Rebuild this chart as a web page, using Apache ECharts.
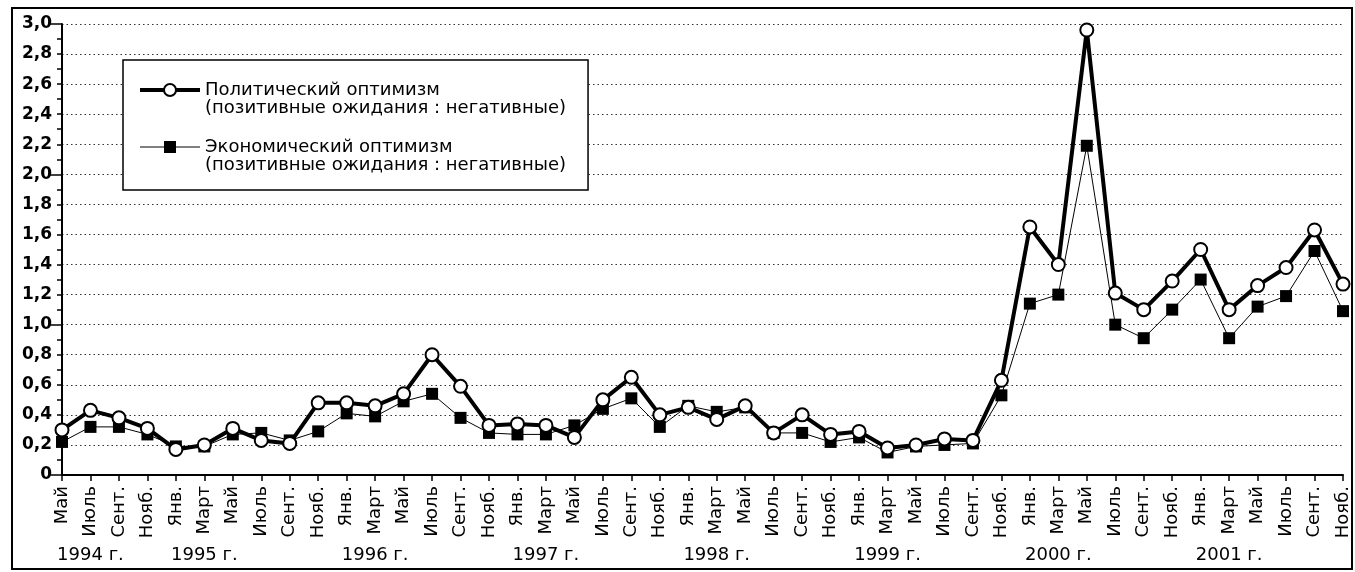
<!DOCTYPE html>
<html>
<head>
<meta charset="utf-8">
<script src="https://cdn.jsdelivr.net/npm/echarts@6/dist/echarts.min.js"></script>
<style>
  html, body { margin: 0; padding: 0; background: #fff; }
  #chart { width: 1355px; height: 572px; }
</style>
</head>
<body>
<div id="chart"></div>
<script>
const months = [
    "Май", "Июль", "Сент.", "Нояб.",
    "Янв.", "Март", "Май", "Июль", "Сент.", "Нояб.",
    "Янв.", "Март", "Май", "Июль", "Сент.", "Нояб.",
    "Янв.", "Март", "Май", "Июль", "Сент.", "Нояб.",
    "Янв.", "Март", "Май", "Июль", "Сент.", "Нояб.",
    "Янв.", "Март", "Май", "Июль", "Сент.", "Нояб.",
    "Янв.", "Март", "Май", "Июль", "Сент.", "Нояб.",
    "Янв.", "Март", "Май", "Июль", "Сент.", "Нояб."
];
const yearLabels = ["1994 г.", "1995 г.", "1996 г.", "1997 г.", "1998 г.", "1999 г.", "2000 г.", "2001 г."];
const yearLabelPos = [1, 5, 11, 17, 23, 29, 35, 41];

const politicalName = "Политический оптимизм\n(позитивные ожидания : негативные)";
const economicName = "Экономический оптимизм\n(позитивные ожидания : негативные)";

const political = [
    0.30, 0.43, 0.38, 0.31,
    0.17, 0.20, 0.31, 0.23, 0.21, 0.48,
    0.48, 0.46, 0.54, 0.80, 0.59, 0.33,
    0.34, 0.33, 0.25, 0.50, 0.65, 0.40,
    0.45, 0.37, 0.46, 0.28, 0.40, 0.27,
    0.29, 0.18, 0.20, 0.24, 0.23, 0.63,
    1.65, 1.40, 2.96, 1.21, 1.10, 1.29,
    1.50, 1.10, 1.26, 1.38, 1.63, 1.27
];
const economic = [
    0.22, 0.32, 0.32, 0.27,
    0.19, 0.19, 0.27, 0.28, 0.23, 0.29,
    0.41, 0.39, 0.49, 0.54, 0.38, 0.28,
    0.27, 0.27, 0.33, 0.44, 0.51, 0.32,
    0.46, 0.42, 0.45, 0.28, 0.28, 0.22,
    0.25, 0.15, 0.19, 0.20, 0.21, 0.53,
    1.14, 1.20, 2.19, 1.00, 0.91, 1.10,
    1.30, 0.91, 1.12, 1.19, 1.49, 1.09
];

const myChart = echarts.init(document.getElementById("chart"));
const font = "DejaVu Sans";

const option = {
    animation: false,
    textStyle: {
        fontFamily: font,
        color: "#000"
    },
    grid: {
        left: 62,
        right: 12,
        top: 24,
        bottom: 97
    },
    legend: {
        orient: "vertical",
        left: 123,
        top: 60,
        padding: [3, 22, 16, 15],
        itemGap: 3,
        itemWidth: 60,
        itemHeight: 15,
        borderColor: "#000",
        borderWidth: 1.5,
        backgroundColor: "#fff",
        // blank first line keeps the icon level with the first text line
        formatter: name => "\n" + name,
        textStyle: {
            fontFamily: font,
            fontSize: 18,
            lineHeight: 18,
            color: "#000"
        },
        data: [{
            name: politicalName,
            lineStyle: {width: 4, color: "#000"},
            itemStyle: {color: "#fff", borderColor: "#000", borderWidth: 2}
        }, {
            name: economicName,
            lineStyle: {width: 1, color: "#000"},
            itemStyle: {color: "#000"}
        }]
    },
    xAxis: [{
        type: "category",
        data: months,
        boundaryGap: false,
        axisLine: {
            lineStyle: {color: "#000", width: 2}
        },
        axisTick: {
            show: true,
            length: 6,
            lineStyle: {color: "#000", width: 1.5}
        },
        axisLabel: {
            interval: 0,
            rotate: 90,
            margin: 11,
            fontSize: 18,
            color: "#000",
            fontFamily: font
        },
        splitLine: {show: false}
    }, {
        type: "category",
        data: months,
        boundaryGap: false,
        position: "bottom",
        offset: 64,
        axisLine: {show: false},
        axisTick: {show: false},
        axisLabel: {
            interval: 0,
            margin: 7,
            fontSize: 18,
            color: "#000",
            fontFamily: font,
            formatter: function(value, index) {
                const k = yearLabelPos.indexOf(index);
                return k >= 0 ? yearLabels[k] : "";
            }
        }
    }],
    yAxis: [{
        type: "value",
        min: 0,
        max: 3,
        interval: 0.2,
        axisLine: {
            show: true,
            lineStyle: {color: "#000", width: 2}
        },
        axisTick: {
            show: true,
            length: 5,
            lineStyle: {color: "#000", width: 1.5}
        },
        minorTick: {
            show: true,
            splitNumber: 2,
            length: 5,
            lineStyle: {color: "#000", width: 1.5}
        },
        axisLabel: {
            margin: 10,
            fontSize: 17,
            fontWeight: "bold",
            color: "#000",
            fontFamily: font,
            formatter: function(v) {
                return v === 0 ? "0" : v.toFixed(1).replace(".", ",");
            }
        },
        splitLine: {
            show: true,
            lineStyle: {color: "#333", type: [1.5, 3], width: 1}
        }
    }, {
        type: "value",
        min: 0,
        max: 3,
        interval: 1,
        position: "left",
        axisLine: {show: false},
        axisTick: {
            show: true,
            length: 12,
            lineStyle: {color: "#000", width: 1.5}
        },
        axisLabel: {show: false},
        splitLine: {show: false}
    }],
    graphic: [{
        type: "rect",
        shape: {x: 12, y: 8, width: 1340, height: 561},
        style: {fill: "none", stroke: "#000", lineWidth: 2},
        silent: true
    }],
    series: [{
        name: economicName,
        type: "line",
        data: economic,
        z: 2,
        symbol: "rect",
        symbolSize: 12,
        lineStyle: {color: "#000", width: 1},
        itemStyle: {color: "#000", borderColor: "#000", borderWidth: 0}
    }, {
        name: politicalName,
        type: "line",
        data: political,
        z: 3,
        symbol: "circle",
        symbolSize: 13,
        lineStyle: {color: "#000", width: 4},
        itemStyle: {color: "#fff", borderColor: "#000", borderWidth: 2}
    }]
};

myChart.setOption(option);
</script>
</body>
</html>
